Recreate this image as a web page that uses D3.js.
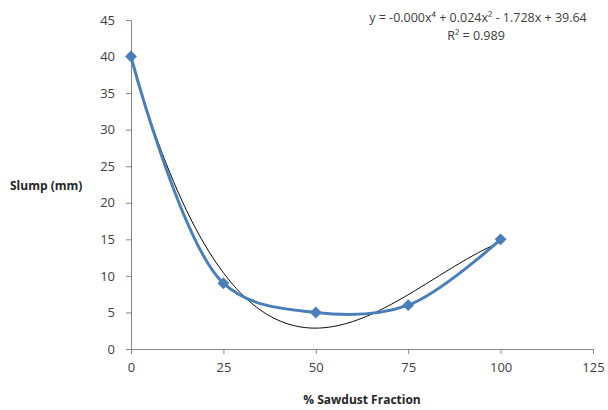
<!DOCTYPE html>
<html>
<head>
<meta charset="utf-8">
<script src="https://cdn.jsdelivr.net/npm/d3@7"></script>
<style>
  body { margin: 0; background: #fff; }
  text { font-family: "Open Sans", "Liberation Sans", sans-serif; }
</style>
</head>
<body>
<script>
// data
const fraction = [0, 25, 50, 75, 100];
const slump = [40, 9, 5, 6, 15];
const xTicks = [0, 25, 50, 75, 100, 125];
const yTicks = [0, 5, 10, 15, 20, 25, 30, 35, 40, 45];
const eqText = "y = -0.000x\u2074 + 0.024x\u00b2 - 1.728x + 39.64";
const r2Text = "R\u00b2 = 0.989";

const W = 608, H = 410;
const margin = { top: 20, right: 15, bottom: 61, left: 131 };

const svg = d3.select("body").append("svg")
  .attr("width", W)
  .attr("height", H);

const x = d3.scaleLinear().domain([0, 125]).range([margin.left, W - margin.right]);
const y = d3.scaleLinear().domain([0, 45]).range([H - margin.bottom, margin.top]);

// least squares cubic trendline from the points
function polyFit(xs, ys, deg) {
  const n = deg + 1;
  const A = [];
  for (let i = 0; i < n; i++) {
    A.push([]);
    for (let j = 0; j < n; j++) A[i].push(d3.sum(xs, v => Math.pow(v, i + j)));
    A[i].push(d3.sum(xs, (v, k) => ys[k] * Math.pow(v, i)));
  }
  for (let c = 0; c < n; c++) {
    let p = c;
    for (let r = c + 1; r < n; r++) if (Math.abs(A[r][c]) > Math.abs(A[p][c])) p = r;
    [A[c], A[p]] = [A[p], A[c]];
    for (let r = 0; r < n; r++) {
      if (r === c) continue;
      const f = A[r][c] / A[c][c];
      for (let k = c; k <= n; k++) A[r][k] -= f * A[c][k];
    }
  }
  return A.map((row, i) => row[n] / row[i]);
}
const coef = polyFit(fraction, slump, 3);
const trend = d3.range(0, 100.5, 0.5).map(v => [v, coef.reduce((s, c, i) => s + c * Math.pow(v, i), 0)]);

// axes
const xAxis = svg.append("g")
  .attr("transform", `translate(0,${y(0)})`)
  .call(d3.axisBottom(x).tickValues(xTicks).tickSize(5).tickPadding(9));
const yAxis = svg.append("g")
  .attr("transform", `translate(${x(0)},0)`)
  .call(d3.axisLeft(y).tickValues(yTicks).tickSize(5).tickPadding(11));

[xAxis, yAxis].forEach(g => {
  g.select(".domain").attr("stroke", "#868686");
  g.selectAll(".tick line").attr("stroke", "#868686");
  g.selectAll(".tick text")
    .attr("fill", "#404040")
    .style("font-size", "13px")
    .style("font-family", "Open Sans, Liberation Sans, sans-serif");
});

// trendline
svg.append("path")
  .datum(trend)
  .attr("fill", "none")
  .attr("stroke", "#000")
  .attr("stroke-width", 1)
  .attr("d", d3.line().x(d => x(d[0])).y(d => y(d[1])));

// smoothed series
const pts = fraction.map((f, i) => [f, slump[i]]);
svg.append("path")
  .datum(pts)
  .attr("fill", "none")
  .attr("stroke", "#4a7ebb")
  .attr("stroke-width", 3)
  .attr("d", d3.line().x(d => x(d[0])).y(d => y(d[1])).curve(d3.curveCatmullRom.alpha(0.5)));

svg.selectAll(".pt")
  .data(pts)
  .enter().append("path")
  .attr("class", "pt")
  .attr("transform", d => `translate(${x(d[0])},${y(d[1])})`)
  .attr("d", d3.symbol(d3.symbolDiamond2, 90))
  .attr("fill", "#4a7ebb");

// equation
svg.append("text")
  .attr("x", 478).attr("y", 22)
  .attr("text-anchor", "middle")
  .attr("fill", "#404040")
  .style("font-size", "12.5px")
  .text(eqText);
svg.append("text")
  .attr("x", 476).attr("y", 40)
  .attr("text-anchor", "middle")
  .attr("fill", "#404040")
  .style("font-size", "12.5px")
  .text(r2Text);

// axis titles
svg.append("text")
  .attr("x", 362).attr("y", 404)
  .attr("text-anchor", "middle")
  .attr("fill", "#262626")
  .style("font-size", "12px")
  .style("font-weight", "bold")
  .text("% Sawdust Fraction");
svg.append("text")
  .attr("x", 10).attr("y", 190)
  .attr("fill", "#262626")
  .style("font-size", "12px")
  .style("font-weight", "bold")
  .text("Slump (mm)");
</script>
</body>
</html>
